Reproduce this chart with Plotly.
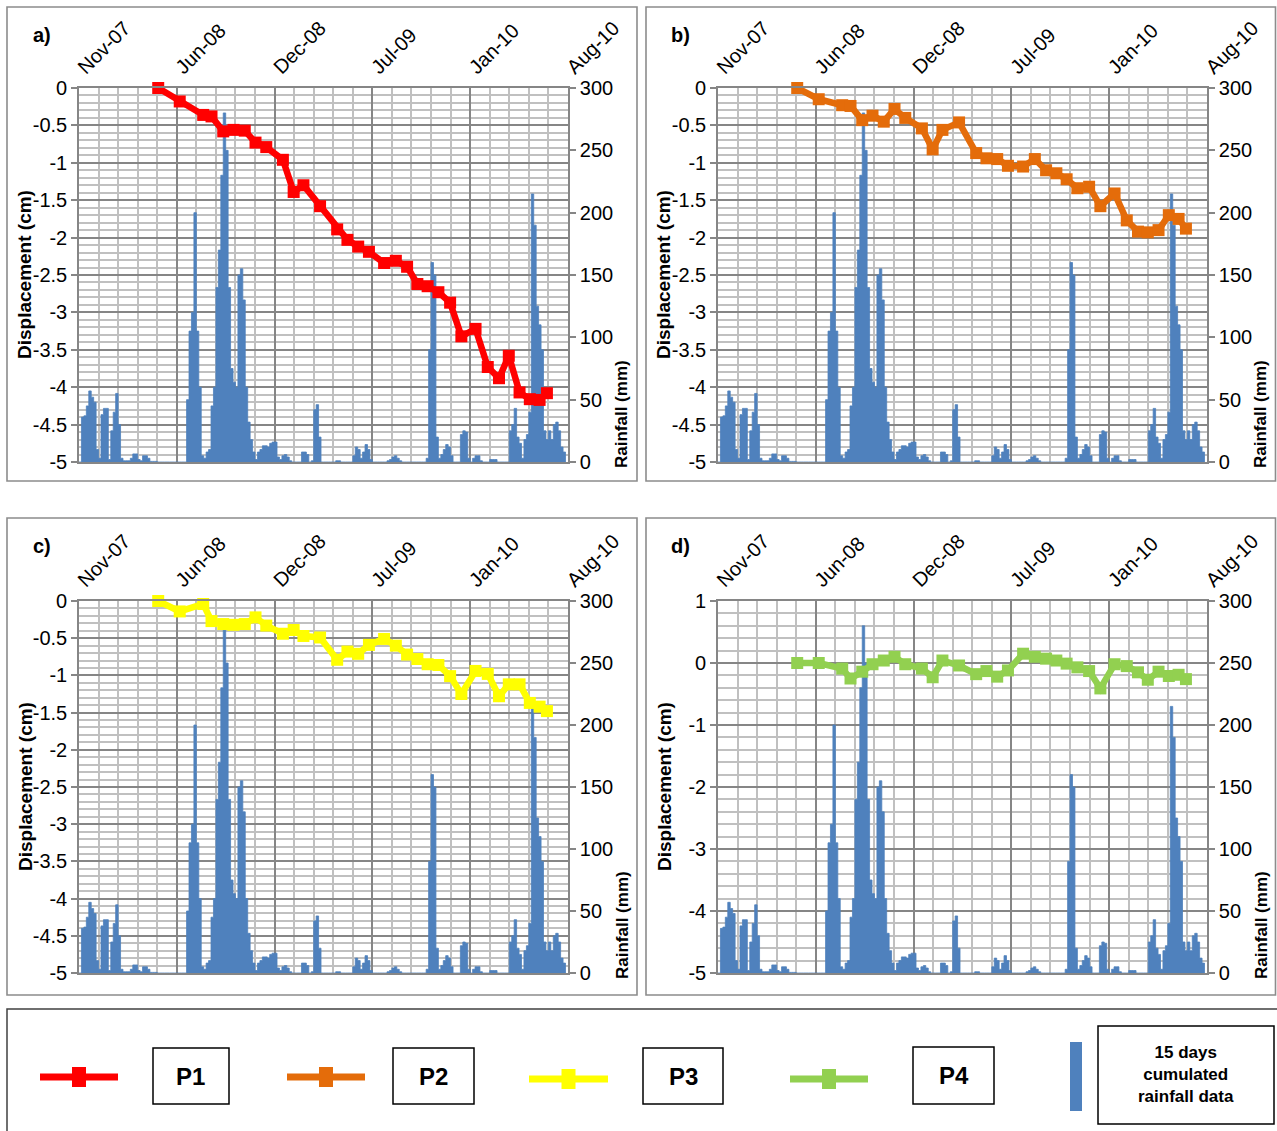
import pandas as pd
import plotly.graph_objects as go

W, H = 1277, 1131
FONT = "Liberation Sans, Arial, sans-serif"

# ---------------- data ----------------
survey_dates = [
    "2008-04-30", "2008-06-13", "2008-07-31", "2008-08-17", "2008-09-10", "2008-10-01",
    "2008-10-24", "2008-11-15", "2008-12-07", "2009-01-10", "2009-02-01", "2009-02-21",
    "2009-03-27", "2009-05-01", "2009-05-22", "2009-06-13", "2009-07-05", "2009-08-05",
    "2009-08-29", "2009-09-21", "2009-10-12", "2009-11-02", "2009-11-24", "2009-12-18",
    "2010-01-10", "2010-02-08", "2010-03-05", "2010-03-28", "2010-04-17", "2010-05-09",
    "2010-05-30", "2010-06-19", "2010-07-04",
]
p1_disp = [0, -0.18, -0.36, -0.38, -0.58, -0.56, -0.57, -0.73, -0.79, -0.96, -1.39, -1.30,
           -1.58, -1.89, -2.03, -2.12, -2.19, -2.34, -2.31, -2.39, -2.62, -2.65, -2.73, -2.87,
           -3.32, -3.22, -3.73, -3.88, -3.58, -4.07, -4.16, -4.17, -4.08]
p2_disp = [0, -0.15, -0.23, -0.24, -0.43, -0.37, -0.45, -0.28, -0.40, -0.54, -0.82, -0.56,
           -0.46, -0.87, -0.94, -0.95, -1.04, -1.05, -0.95, -1.10, -1.14, -1.22, -1.34, -1.32,
           -1.58, -1.41, -1.77, -1.92, -1.93, -1.90, -1.70, -1.75, -1.88]
p3_disp = [0, -0.14, -0.04, -0.27, -0.31, -0.32, -0.31, -0.22, -0.33, -0.44, -0.39, -0.47,
           -0.49, -0.79, -0.68, -0.71, -0.59, -0.51, -0.60, -0.72, -0.78, -0.85, -0.86, -1.01,
           -1.25, -0.94, -0.98, -1.28, -1.12, -1.12, -1.37, -1.42, -1.48]
p4_disp = [0, 0, -0.09, -0.25, -0.14, -0.02, 0.04, 0.10, -0.02, -0.09, -0.23, 0.04,
           -0.04, -0.18, -0.13, -0.22, -0.12, 0.15, 0.10, 0.07, 0.04, -0.01, -0.07, -0.13,
           -0.41, -0.02, -0.05, -0.15, -0.27, -0.14, -0.21, -0.19, -0.26]

# 15-day cumulated rainfall (mm), one value per 5-day step from rain_start
rain_start = "2007-11-20"
rain_step_days = 5
rain_15d_mm = [
    0, 36, 37, 45, 57, 52, 48, 10, 3, 38,
    43, 43, 2, 25, 40, 55, 30, 3, 1, 1,
    1, 3, 6.5, 6.5, 2, 1, 5, 5, 3, 0.5,
    0.5, 0.5, 0, 0, 0, 0, 0, 0, 0, 0,
    0, 0, 0, 0, 50, 105, 120, 200, 105, 60,
    5, 3, 8, 10, 45, 60, 140, 170, 230, 280,
    250, 140, 75, 64, 60, 150, 155, 130, 60, 32,
    18, 8, 2, 8, 10, 13, 13, 12, 15, 16,
    16, 4, 2, 5, 6, 4, 1, 0, 0, 0,
    0, 8, 8, 6, 0, 1, 42, 46, 20, 0,
    0, 0, 0, 0, 0, 1, 1, 0, 0, 0,
    0, 0, 5, 12, 10, 3, 8, 14, 10, 2,
    0, 0, 0, 0, 0, 0, 1, 2, 4, 5,
    3, 1, 0, 0, 0, 0, 0, 0, 0, 0,
    0, 0, 3, 90, 160, 150, 20, 3, 6, 10,
    14, 12, 5, 0, 0, 0, 22, 25, 24, 3,
    0, 3, 5, 5, 1, 0, 0, 0, 2, 2,
    2, 0, 0, 0, 0, 0, 25, 30, 43, 20,
    15, 3, 18, 22, 40, 215, 190, 125, 110, 90,
    25, 18, 25, 18, 30, 32, 25, 12, 8, 0,
]

x_start, x_end = "2007-11-20", "2010-08-16 02:00"
DAY_MS = 86400000
major_days, minor_days = 200, 40

disp_ticks_main = [0, -0.5, -1, -1.5, -2, -2.5, -3, -3.5, -4, -4.5, -5]
disp_ticks_d = [1, 0, -1, -2, -3, -4, -5]
rain_ticks = [0, 50, 100, 150, 200, 250, 300]

panel_labels = ["a)", "b)", "c)", "d)"]
series_names = ["P1", "P2", "P3", "P4"]
series_values = [p1_disp, p2_disp, p3_disp, p4_disp]
series_colors = ["#FF0000", "#E46C0A", "#FFFF00", "#92D050"]
RAIN_COLOR = "#4F81BD"
MAJOR = "#868686"
MINOR = "#C0C0C0"

# ---------------- geometry (pixels) ----------------
plot_boxes = [(79, 88, 568, 462), (718, 88, 1207, 462),
              (79, 601, 568, 973), (718, 601, 1207, 973)]
frame_boxes = [(7, 7, 637, 481), (646, 7, 1275.5, 481),
               (7, 518, 637, 995), (646, 518, 1275.5, 995)]


def px(xp):
    return xp / W


def py(yp):
    return 1 - yp / H


# each value holds for one 5-day step starting at its date
rain_x = pd.date_range(rain_start, periods=len(rain_15d_mm), freq=f"{rain_step_days}D")

fig = go.Figure()
layout = dict(
    width=W, height=H, autosize=False,
    margin=dict(l=0, r=0, t=0, b=0, pad=0, autoexpand=False),
    paper_bgcolor="white", plot_bgcolor="rgba(0,0,0,0)",
    showlegend=False,
    font=dict(family=FONT, color="black"),
)
annotations = []
shapes = []

tick_font = dict(family=FONT, size=20, color="black")

for k in range(4):
    x0p, y0p, x1p, y1p = plot_boxes[k]
    xname = "x" if k == 0 else f"x{k + 1}"
    xkey = "xaxis" if k == 0 else f"xaxis{k + 1}"
    yr_num, yd_num = 2 * k + 1, 2 * k + 2
    yr_name = "y" if yr_num == 1 else f"y{yr_num}"
    yr_key = "yaxis" if yr_num == 1 else f"yaxis{yr_num}"
    yd_name = f"y{yd_num}"
    yd_key = f"yaxis{yd_num}"

    fig.add_trace(go.Scatter(
        x=rain_x, y=rain_15d_mm, mode="lines", fill="tozeroy",
        fillcolor=RAIN_COLOR, line=dict(color=RAIN_COLOR, width=0.8, shape="hv"),
        xaxis=xname, yaxis=yr_name, name="15 days cumulated rainfall data",
    ))
    fig.add_trace(go.Scatter(
        x=survey_dates, y=series_values[k], mode="lines+markers",
        line=dict(color=series_colors[k], width=6.5),
        marker=dict(symbol="square", size=12, color=series_colors[k]),
        cliponaxis=False,
        xaxis=xname, yaxis=yd_name, name=series_names[k],
    ))

    layout[xkey] = dict(
        type="date", domain=[px(x0p), px(x1p)], anchor=yr_name, side="top",
        range=[x_start, x_end], tick0=x_start, dtick=major_days * DAY_MS,
        tickformat="%b-%y", tickangle=-45, ticks="", tickfont=tick_font,
        showgrid=True, gridcolor=MAJOR, gridwidth=1.6,
        minor=dict(tick0=x_start, dtick=minor_days * DAY_MS, showgrid=True,
                   gridcolor=MINOR, gridwidth=1.5),
        showline=True, linecolor=MAJOR, linewidth=1.6, mirror=True,
        zeroline=False, fixedrange=True, automargin=False,
    )
    layout[yr_key] = dict(
        domain=[py(y1p), py(y0p)], anchor=xname, side="right",
        range=[0, 300], tickmode="array", tickvals=rain_ticks,
        ticktext=[f"{v:g}" for v in rain_ticks],
        ticks="outside", ticklen=6, tickcolor=MAJOR, tickwidth=1.5,
        tickfont=tick_font, showgrid=False, zeroline=False,
        showline=True, linecolor=MAJOR, linewidth=1.6, fixedrange=True, automargin=False,
    )
    if k == 3:
        dticks, drange, minor_step = disp_ticks_d, [-5, 1], 0.2
    else:
        dticks, drange, minor_step = disp_ticks_main, [-5, 0], 0.1
    layout[yd_key] = dict(
        overlaying=yr_name, anchor=xname, side="left",
        range=drange, tickmode="array", tickvals=dticks,
        ticktext=[f"{v:g}" for v in dticks],
        ticks="outside", ticklen=6, tickcolor=MAJOR, tickwidth=1.5,
        tickfont=tick_font,
        showgrid=True, gridcolor=MAJOR, gridwidth=1.6,
        minor=dict(tickmode="linear", tick0=0, dtick=minor_step, showgrid=True,
                   gridcolor=MINOR, gridwidth=1.5),
        zeroline=False, showline=True, linecolor=MAJOR, linewidth=1.6, fixedrange=True,
        automargin=False,
    )

    # panel frame
    fx0, fy0, fx1, fy1 = frame_boxes[k]
    shapes.append(dict(type="rect", xref="paper", yref="paper",
                       x0=px(fx0), x1=px(fx1), y0=py(fy1), y1=py(fy0),
                       line=dict(color="#8C8C8C", width=1.6), layer="below"))
    # panel label
    annotations.append(dict(text="<b>" + panel_labels[k] + "</b>", xref="paper", yref="paper",
                            x=px(fx0 + 35), y=py(fy0 + 28), showarrow=False,
                            font=dict(family=FONT, size=20, color="black"),
                            xanchor="center", yanchor="middle"))
    # y titles
    annotations.append(dict(text="<b>Displacement (cm)</b>", xref="paper", yref="paper",
                            x=px(x0p - 54), y=py((y0p + y1p) / 2), showarrow=False,
                            textangle=-90, font=dict(family=FONT, size=19, color="black"),
                            xanchor="center", yanchor="middle"))
    annotations.append(dict(text="<b>Rainfall (mm)</b>", xref="paper", yref="paper",
                            x=px(x1p + 54), y=py(y1p - 48), showarrow=False,
                            textangle=-90, font=dict(family=FONT, size=17, color="black"),
                            xanchor="center", yanchor="middle"))

# ---------------- custom legend ----------------
shapes.append(dict(type="path", xref="paper", yref="paper",
                   path=f"M {px(7)} {py(H + 5)} L {px(7)} {py(1009)} L {px(W + 5)} {py(1009)}",
                   line=dict(color="#404040", width=1.5)))

legend_lines = [(40, 118, 1077), (287, 365, 1077), (529, 608, 1079), (790, 868, 1079)]
legend_boxes = [(153, 1048, 229, 1104), (393, 1048, 474, 1104),
                (643, 1048, 723, 1104), (913, 1047, 994, 1104)]
for i in range(4):
    lx0, lx1, ly = legend_lines[i]
    col = series_colors[i]
    shapes.append(dict(type="line", xref="paper", yref="paper",
                       x0=px(lx0), x1=px(lx1), y0=py(ly), y1=py(ly),
                       line=dict(color=col, width=7)))
    mx = (lx0 + lx1) / 2
    shapes.append(dict(type="rect", xref="paper", yref="paper",
                       x0=px(mx - 7), x1=px(mx + 7), y0=py(ly + 10), y1=py(ly - 10),
                       fillcolor=col, line=dict(color=col, width=0)))
    bx0, by0, bx1, by1 = legend_boxes[i]
    shapes.append(dict(type="rect", xref="paper", yref="paper",
                       x0=px(bx0), x1=px(bx1), y0=py(by1), y1=py(by0),
                       line=dict(color="black", width=1.5)))
    annotations.append(dict(text="<b>" + series_names[i] + "</b>", xref="paper", yref="paper",
                            x=px((bx0 + bx1) / 2), y=py((by0 + by1) / 2), showarrow=False,
                            font=dict(family=FONT, size=24, color="black"),
                            xanchor="center", yanchor="middle"))

shapes.append(dict(type="rect", xref="paper", yref="paper",
                   x0=px(1070), x1=px(1082), y0=py(1111), y1=py(1042),
                   fillcolor=RAIN_COLOR, line=dict(width=0)))
shapes.append(dict(type="rect", xref="paper", yref="paper",
                   x0=px(1098), x1=px(1274), y0=py(1124), y1=py(1026),
                   line=dict(color="black", width=1.5)))
annotations.append(dict(text="<b>15 days<br>cumulated<br>rainfall data</b>",
                        xref="paper", yref="paper", x=px(1186), y=py(1074), showarrow=False,
                        font=dict(family=FONT, size=17, color="black"),
                        xanchor="center", yanchor="middle", align="center"))

layout["shapes"] = shapes
layout["annotations"] = annotations
fig.update_layout(**layout)

fig.write_html("out.html", config={"displayModeBar": False},
               post_script="document.body.style.margin='0';document.body.style.overflow='hidden';")
